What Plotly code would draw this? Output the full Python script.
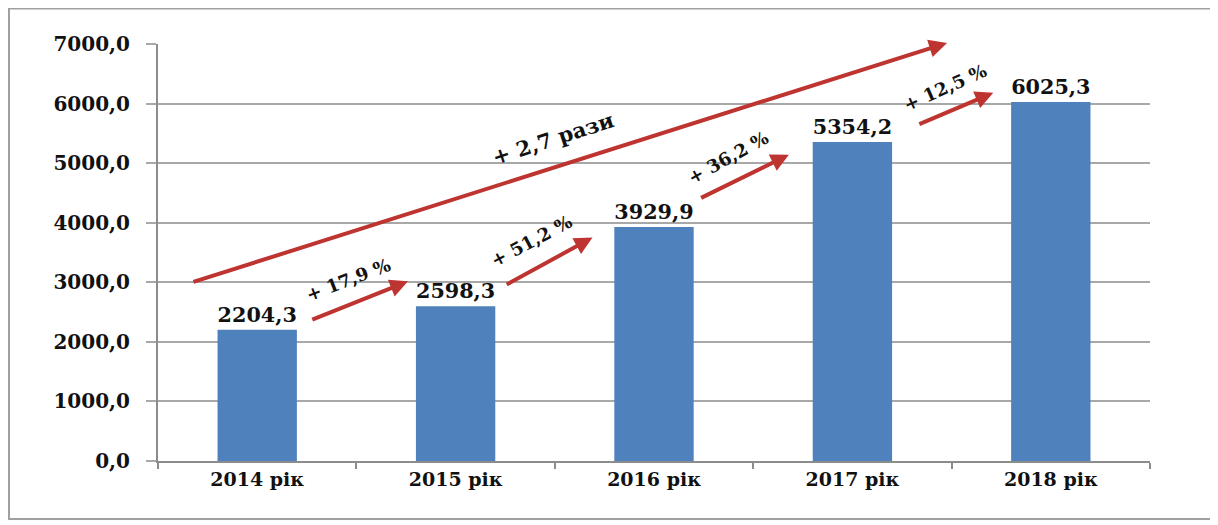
import plotly.graph_objects as go

# ---- data ----
categories = ["2014 рік", "2015 рік", "2016 рік", "2017 рік", "2018 рік"]
values = [2204.3, 2598.3, 3929.9, 5354.2, 6025.3]
y_tick_values = [0, 1000, 2000, 3000, 4000, 5000, 6000, 7000]
growth_labels = ["+ 17,9 %", "+ 51,2 %", "+ 36,2 %", "+ 12,5 %"]
total_label = "+ 2,7 рази"

# ---- styling / layout geometry (not data) ----
BAR_COLOR = "#4F81BD"
ARROW_COLOR = "#BE3431"
GRID_COLOR = "#A8A8A8"
FONT = "DejaVu Serif"
# arrow i: (x offset start, y offset from values[i], x offset end, y offset from values[i+1])
arrow_geom = [(0.27, 158, 0.76, 417), (0.25, 350, 0.69, -178),
              (0.23, 475, 0.68, -212), (0.33, 291, 0.71, 156)]
# label i: (x offset, y offset from values[i], angle)
label_geom = [(0.46, 845, -21), (0.385, 1104, -28), (0.373, 1162, -29), (0.467, 911, -24)]

fig = go.Figure()
fig.add_trace(go.Bar(
    x=list(range(len(categories))), y=values,
    marker=dict(color=BAR_COLOR, line=dict(width=0)),
    texttemplate="%{y:.1f}", textposition="outside",
    textfont=dict(family=FONT, size=21, color="#111111", weight="bold"),
    cliponaxis=False, width=0.4,
))

annotations = []
for i, (x0o, y0o, x1o, y1o) in enumerate(arrow_geom):
    annotations.append(dict(
        x=i + x1o, y=values[i + 1] + y1o, ax=i + x0o, ay=values[i] + y0o,
        xref="x", yref="y", axref="x", ayref="y", text="", showarrow=True,
        arrowhead=2, arrowsize=0.9, arrowwidth=4, arrowcolor=ARROW_COLOR))
for i, (xo, yo, ang) in enumerate(label_geom):
    annotations.append(dict(
        x=i + xo, y=values[i] + yo, xref="x", yref="y", text=growth_labels[i],
        showarrow=False, textangle=ang,
        font=dict(family=FONT, size=18, color="#111111", weight="bold")))
# overall arrow 2014 -> 2018
annotations.append(dict(
    x=len(values) - 1 - 0.523, y=values[-1] + 993, ax=-0.329, ay=values[0] + 794,
    xref="x", yref="y", axref="x", ayref="y", text="", showarrow=True,
    arrowhead=2, arrowsize=0.9, arrowwidth=4, arrowcolor=ARROW_COLOR))
annotations.append(dict(
    x=1.491, y=values[0] + 3206, xref="x", yref="y", text=total_label,
    showarrow=False, textangle=-18,
    font=dict(family=FONT, size=21, color="#111111", weight="bold")))

fig.update_layout(
    width=1205, height=512,
    margin=dict(l=150, r=63, t=36, b=59),
    paper_bgcolor="white", plot_bgcolor="white",
    separators=",.",
    showlegend=False,
    annotations=annotations,
    shapes=[dict(type="rect", xref="paper", yref="paper",
                 x0=-0.1502, x1=1.0615, y0=-0.1390, y1=1.0850,
                 line=dict(color="#A0A0A0", width=2), layer="below")],
)
fig.update_xaxes(
    range=[-0.5, len(categories) - 0.5],
    tickmode="array", tickvals=list(range(len(categories))), ticktext=categories,
    showgrid=False, showline=True, linecolor="#8C8C8C", linewidth=2,
    ticks="",
    tickfont=dict(family=FONT, size=19, color="#111111", weight="bold"),
    minor=dict(tickvals=[k + 0.5 for k in range(-1, len(categories))],
               ticks="outside", ticklen=6, tickcolor="#8C8C8C", tickwidth=2),
)
fig.update_yaxes(
    range=[0, 7000], tickmode="array", tickvals=y_tick_values, tickformat=".1f",
    showgrid=True, gridcolor=GRID_COLOR, gridwidth=2,
    showline=True, linecolor="#8C8C8C", linewidth=2,
    ticks="outside", ticklen=10, tickcolor=GRID_COLOR, tickwidth=2,
    ticklabelstandoff=12,
    tickfont=dict(family=FONT, size=20, color="#111111", weight="bold"),
    zeroline=False,
)
fig.write_html("out.html")
